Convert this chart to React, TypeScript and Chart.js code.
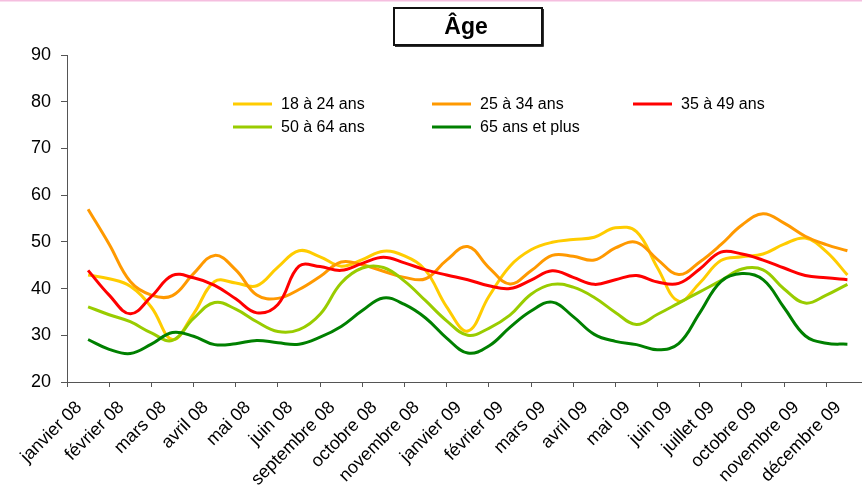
import React, { useEffect, useRef } from 'react';
import { Chart, registerables } from 'chart.js';

Chart.register(...registerables);

// Category labels (one per month shown on the axis)
const months = [
  'janvier 08', 'février 08', 'mars 08', 'avril 08', 'mai 08', 'juin 08',
  'septembre 08', 'octobre 08', 'novembre 08', 'janvier 09', 'février 09',
  'mars 09', 'avril 09', 'mai 09', 'juin 09', 'juillet 09', 'octobre 09',
  'novembre 09', 'décembre 09',
];

// Series values, two readings per month (start and middle of each month)
const age18_24 = [42.9, 42.1, 40.5, 36.0, 29.1, 34.6, 41.5, 41.2, 40.6, 44.6, 48.1, 46.8, 44.8, 46.2, 48.0, 47.0, 43.9, 36.1, 30.9, 38.3, 44.8, 48.3, 49.9, 50.5, 51.0, 53.0, 52.2, 44.4, 37.3, 41.2, 46.0, 46.8, 47.4, 49.5, 50.8, 47.9, 42.9];
const age25_34 = [57.0, 49.5, 41.5, 38.6, 38.5, 43.2, 47.1, 44.0, 38.6, 37.9, 39.8, 42.6, 45.7, 45.1, 43.7, 42.4, 42.1, 46.1, 49.0, 44.5, 41.0, 43.8, 47.1, 46.9, 46.1, 48.7, 49.9, 46.2, 43.0, 45.7, 49.4, 53.6, 56.0, 54.0, 51.2, 49.4, 48.1];
const age35_49 = [43.9, 38.6, 34.6, 38.3, 42.8, 42.3, 40.7, 37.8, 34.8, 36.6, 44.8, 44.7, 43.9, 45.4, 46.7, 45.5, 44.0, 42.9, 41.9, 40.6, 40.0, 41.8, 43.8, 42.4, 40.9, 41.9, 42.8, 41.4, 41.1, 44.2, 47.8, 47.4, 46.1, 44.4, 42.8, 42.3, 41.9];
const age50_64 = [36.1, 34.4, 32.9, 30.5, 28.9, 33.6, 37.0, 35.6, 32.9, 30.8, 31.2, 34.5, 41.2, 44.4, 44.5, 41.6, 37.4, 33.1, 30.0, 31.5, 34.3, 38.8, 40.9, 40.3, 38.1, 34.9, 32.3, 34.5, 36.9, 39.3, 41.7, 44.2, 44.0, 39.9, 36.9, 38.6, 40.9];
const age65plus = [29.1, 27.0, 26.1, 28.1, 30.6, 29.8, 28.0, 28.2, 28.9, 28.4, 28.1, 29.6, 31.9, 35.3, 38.0, 36.6, 33.7, 29.4, 26.2, 27.7, 31.7, 35.2, 37.1, 34.0, 30.2, 28.7, 28.0, 26.9, 28.2, 34.8, 41.5, 43.2, 41.9, 35.9, 29.9, 28.3, 28.1];

const seriesLabels = ['18 à 24 ans', '25 à 34 ans', '35 à 49 ans', '50 à 64 ans', '65 ans et plus'];
const seriesColors = ['#FFCC00', '#FF9900', '#FF0000', '#99CC00', '#008000'];

// Y axis ticks
const yMin = 20;
const yMax = 90;
const yStep = 10;

const titleText = 'Âge';

const FONT = "'Liberation Sans', Arial, sans-serif";
const samplesPerMonth = 2;

const decorPlugin = {
  id: 'decor',
  afterDraw(chart: any) {
    const ctx = chart.ctx as CanvasRenderingContext2D;
    ctx.save();
    // thin pink line at the very top
    ctx.fillStyle = '#F5BEDF';
    ctx.fillRect(0, 0, chart.width, 1.5);

    // Title box
    ctx.strokeStyle = '#111';
    ctx.lineWidth = 2;
    ctx.strokeRect(394, 8, 148, 37);
    ctx.lineWidth = 1;
    ctx.strokeStyle = '#333';
    ctx.beginPath();
    ctx.moveTo(395, 46.5);
    ctx.lineTo(543.5, 46.5);
    ctx.lineTo(543.5, 9);
    ctx.stroke();
    ctx.fillStyle = '#000';
    ctx.font = `bold 23px ${FONT}`;
    ctx.textAlign = 'center';
    ctx.textBaseline = 'middle';
    ctx.fillText(titleText, 466, 28);

    // Legend
    const cols = [233, 432, 633];
    const rows = [104, 127];
    const slots = [[0, 0], [1, 0], [2, 0], [0, 1], [1, 1]];
    ctx.font = `16px ${FONT}`;
    ctx.textAlign = 'left';
    ctx.textBaseline = 'middle';
    chart.data.datasets.forEach((ds: any, i: number) => {
      const [c, r] = slots[i];
      const x = cols[c];
      const y = rows[r];
      ctx.strokeStyle = ds.borderColor;
      ctx.lineWidth = 3;
      ctx.beginPath();
      ctx.moveTo(x, y);
      ctx.lineTo(x + 39, y);
      ctx.stroke();
      ctx.fillStyle = '#000';
      ctx.fillText(ds.label, x + 48, y + 1);
    });
    ctx.restore();
  },
};

export default function App() {
  const ref = useRef<HTMLCanvasElement>(null);

  useEffect(() => {
    const canvas = ref.current;
    if (!canvas) return;
    const allSeries = [age18_24, age25_34, age35_49, age50_64, age65plus];
    const toPoints = (vals: number[]) => vals.map((v, k) => ({ x: k / samplesPerMonth, y: v }));

    const chart = new Chart(canvas, {
      type: 'line',
      data: {
        labels: months,
        datasets: allSeries.map((vals, i) => ({
          label: seriesLabels[i],
          data: toPoints(vals),
          borderColor: seriesColors[i],
          backgroundColor: seriesColors[i],
          borderWidth: 3,
          pointRadius: 0,
          pointHoverRadius: 0,
          tension: 0.4,
          fill: false,
          order: 10 - i,
          xAxisID: 'x',
          yAxisID: 'y',
        })),
      },
      options: {
        responsive: false,
        animation: false,
        devicePixelRatio: 1,
        events: [],
        layout: { padding: { top: 55, right: 11.5, left: 0, bottom: 0 } },
        plugins: {
          legend: { display: false },
          tooltip: { enabled: false },
          title: { display: false },
        },
        scales: {
          x: {
            type: 'linear',
            display: false,
            min: -0.5,
            max: months.length - 0.5,
          },
          xc: {
            type: 'category',
            position: 'bottom',
            offset: true,
            grid: {
              offset: true,
              drawOnChartArea: false,
              drawTicks: true,
              tickLength: 5,
              color: '#555',
            },
            border: { display: true, color: '#555', width: 1 },
            ticks: {
              autoSkip: false,
              maxRotation: 45,
              minRotation: 45,
              padding: 10,
              labelOffset: -9,
              color: '#000',
              font: { size: 18, family: FONT },
            },
            afterFit: (s: any) => {
              s.height = 118;
            },
          },
          y: {
            type: 'linear',
            min: yMin,
            max: yMax,
            ticks: {
              stepSize: yStep,
              padding: 10,
              color: '#000',
              font: { size: 18, family: FONT },
            },
            grid: { drawOnChartArea: false, tickLength: 6, color: '#555' },
            border: { display: true, color: '#555', width: 1 },
            afterFit: (s: any) => {
              s.width = 67;
            },
          },
        },
      } as any,
      plugins: [decorPlugin],
    });
    return () => chart.destroy();
  }, []);

  return (
    <div
      style={{
        position: 'fixed',
        left: 0,
        top: 0,
        width: 862,
        height: 500,
        overflow: 'hidden',
        background: '#fff',
      }}
    >
      <canvas ref={ref} width={880} height={500} style={{ display: 'block', width: 880, height: 500 }} />
    </div>
  );
}
